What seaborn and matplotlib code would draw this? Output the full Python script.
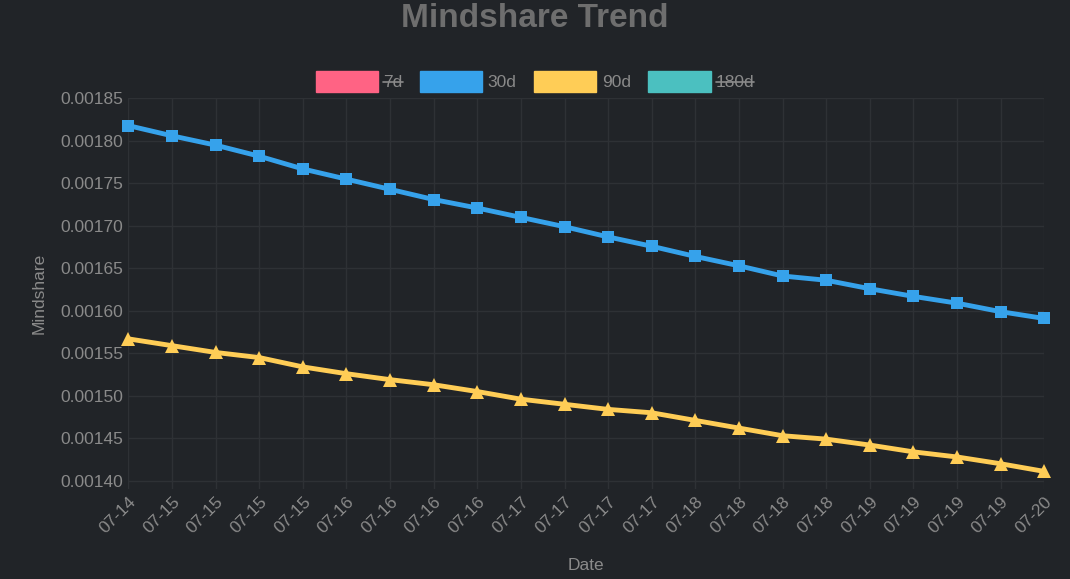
import matplotlib
matplotlib.use("Agg")
import matplotlib.pyplot as plt
import seaborn as sns
import pandas as pd
from matplotlib.patches import Patch
from matplotlib.lines import Line2D

dates = ["07-14", "07-15", "07-15", "07-15", "07-15", "07-16", "07-16", "07-16", "07-16",
         "07-17", "07-17", "07-17", "07-17", "07-18", "07-18", "07-18", "07-18",
         "07-19", "07-19", "07-19", "07-19", "07-20"]
d30 = [0.001818, 0.001806, 0.001795, 0.001782, 0.001767, 0.001755, 0.001743, 0.001731,
       0.001721, 0.001710, 0.001699, 0.001687, 0.001676, 0.001664, 0.001653, 0.001641,
       0.001636, 0.001626, 0.001617, 0.001609, 0.001599, 0.001591]
d90 = [0.001567, 0.001559, 0.001551, 0.001545, 0.001534, 0.001526, 0.001519, 0.001513,
       0.001505, 0.001496, 0.001490, 0.001484, 0.001480, 0.001471, 0.001462, 0.001453,
       0.001449, 0.001442, 0.001434, 0.001428, 0.001420, 0.001411]

bg = "#212428"
txt = "#8a8a8a"
sns.set_theme(style="dark")
plt.rcParams["font.family"] = ["Liberation Sans", "DejaVu Sans"]

df = pd.DataFrame({"i": range(len(dates)), "30d": d30, "90d": d90})

fig, ax = plt.subplots(figsize=(10.7, 5.79), dpi=100)
fig.patch.set_facecolor(bg)
ax.set_facecolor(bg)
sns.lineplot(data=df, x="i", y="30d", ax=ax, color="#36a2eb", lw=3.5,
             marker="s", markersize=9, markeredgewidth=0, clip_on=False)
sns.lineplot(data=df, x="i", y="90d", ax=ax, color="#ffcd56", lw=3.5,
             marker="^", markersize=10, markeredgewidth=0, clip_on=False)

ax.set_xlim(0, len(dates) - 1)
ax.set_ylim(0.00139, 0.00185)
yt = [0.00140 + 0.00005 * k for k in range(10)]
ax.set_yticks(yt)
ax.set_yticklabels([f"{v:.5f}" for v in yt])
ax.set_xticks(range(len(dates)))
ax.set_xticklabels(dates, rotation=45, ha="right", rotation_mode="anchor")
ax.tick_params(colors=txt, labelsize=12.5, length=0)
ax.grid(True, color="#2e3135", lw=1)
for s in ax.spines.values():
    s.set_visible(False)
ax.set_xlabel("Date", color=txt, fontsize=12.5, labelpad=16)
ax.set_ylabel("Mindshare", color=txt, fontsize=12.5, labelpad=10)
fig.suptitle("Mindshare Trend", color="#6e6e6e", fontsize=24, fontweight="bold", y=0.995)

handles = [Patch(color="#ff6384"), Patch(color="#36a2eb"), Patch(color="#ffcd56"), Patch(color="#4bc0c0")]
labels = ["7d", "30d", "90d", "180d"]
leg = fig.legend(handles, labels, loc="upper center", bbox_to_anchor=(0.5, 0.905), ncol=4,
                 frameon=False, fontsize=12.5, handlelength=3.6, handleheight=1.5,
                 handletextpad=0.3, columnspacing=1.0, labelcolor=txt)

plt.subplots_adjust(left=0.12, right=0.976, top=0.83, bottom=0.155)
fig.canvas.draw()
r = fig.canvas.get_renderer()
for t in [leg.get_texts()[0], leg.get_texts()[3]]:
    bb = t.get_window_extent(r).transformed(fig.transFigure.inverted())
    ym = (bb.y0 + bb.y1) / 2
    fig.add_artist(Line2D([bb.x0, bb.x1], [ym, ym], color=txt, lw=1.2, transform=fig.transFigure))

fig.savefig("out.png", facecolor=bg)
